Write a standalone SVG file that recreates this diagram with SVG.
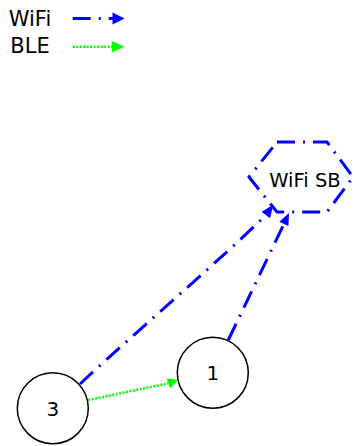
<svg xmlns="http://www.w3.org/2000/svg" width="354" height="446" viewBox="0 0 354 446">
<style>
.txt{font-family:"DejaVu Sans","Liberation Sans",sans-serif;fill:#000;text-anchor:middle}
.node{fill:#fff;stroke:#000;stroke-width:1.5}
.wifi{fill:none;stroke:#0000ff;stroke-width:3;stroke-dasharray:18,8,2,8}
.ble{fill:none;stroke:#00ff00;stroke-width:2.5;stroke-dasharray:2,1.5}
.wifihead{fill:#0000ff;stroke:none}
.blehead{fill:#00ff00;stroke:none}
</style>
<rect width="354" height="446" fill="#fff"/>
<g id="legend">
<text class="txt" x="30" y="25.5" font-size="21">WiFi</text>
<text class="txt" x="30" y="53" font-size="21">BLE</text>
<line class="wifi" x1="72.7" y1="18.5" x2="113" y2="18.5"/>
<polygon class="wifihead" points="112.5,12.5 124.7,18.5 112.5,24.5"/>
<line class="ble" x1="72.7" y1="46.7" x2="112" y2="46.7"/>
<polygon class="blehead" points="111.7,41 124.5,46.7 111.7,52.5"/>
</g>
<g id="node-wifisb">
<polygon class="wifi" points="277,142 327,142 353,177 327,212 277,212 249,177"/>
<text class="txt" x="305" y="186.5" font-size="19.5">WiFi SB</text>
</g>
<g id="node-1">
<circle class="node" cx="212.8" cy="372.8" r="35.5"/>
<text class="txt" x="212.8" y="380" font-size="20">1</text>
</g>
<g id="node-3">
<circle class="node" cx="52.8" cy="408.3" r="35.5"/>
<text class="txt" x="52.8" y="415.5" font-size="20">3</text>
</g>
<g id="connectors">
<path class="wifi" d="M80,384 C140,328 225,256 265.8,215"/>
<polygon class="wifihead" points="273.5,204.5 270,218.3 261.7,211.7"/>
<path class="wifi" d="M228.3,340 L284,223.8"/>
<polygon class="wifihead" points="289,213 288.4,225.9 279.4,221.7"/>
<path class="ble" d="M88.3,400 L168.3,383.3"/>
<polygon class="blehead" points="178.3,380 170,388.3 166.7,378.3"/>
</g>
</svg>
